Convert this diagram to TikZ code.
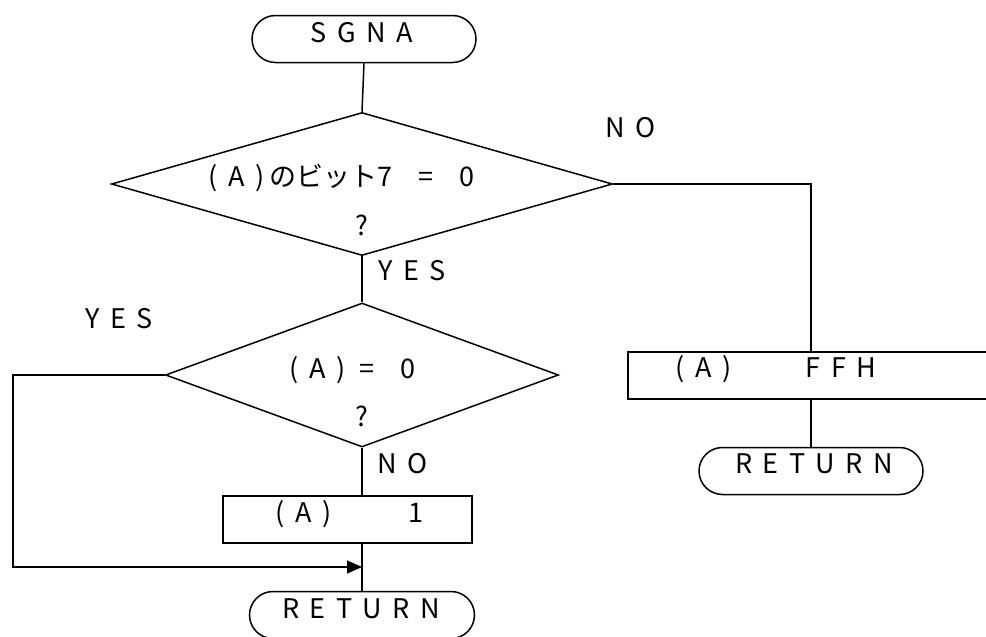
\documentclass[tikz,border=0pt]{standalone}
\usepackage{fontspec}
\newfontfamily\jp{Noto Sans CJK JP}
\newcommand\jpfnt{\jp\fontsize{27}{30}\selectfont\spaceskip=10.5pt\relax}
\usetikzlibrary{shapes.geometric,shapes.misc,arrows.meta}
\begin{document}
\begin{tikzpicture}[x=1pt,y=-1pt,line width=1.5pt,
  term/.style={rounded rectangle, draw, minimum width=224pt, minimum height=47pt, inner sep=0pt},
  dec/.style={diamond, draw, inner sep=0pt},
  proc/.style={rectangle, draw, inner sep=0pt},
  txt/.style={font=\jpfnt, inner sep=0pt},
  tl/.style={txt, anchor=base west},
  tc/.style={txt, anchor=base}]
\useasboundingbox (0,0) rectangle (986,637);
% shapes
\node[term] (start) at (364,39) {};
\node[dec, minimum width=501pt, minimum height=143pt] (d1) at (362,184) {};
\node[dec, minimum width=393pt, minimum height=144pt] (d2) at (362,375) {};
\node[proc, minimum width=249pt, minimum height=47pt] (p1) at (347.5,519.5) {};
\node[term, minimum width=225pt] (r1) at (362,615) {};
\node[proc, minimum width=380pt, minimum height=47pt] (p2) at (818,375.5) {};
\node[term] (r2) at (811,471) {};
\coordinate (c1) at (811,184);
\coordinate (c2) at (13,567);
\coordinate (c3) at (362,567);
% texts
\node[tc] (tstart) at (362,42) {S G N A};
\node[tl] (td1a) at (208,186) {( A )\hspace{5pt}のビット7\hspace{26pt}=\hspace{26pt}0};
\node[tl] (td1b) at (355,235) {?};
\node[tl] (tno1) at (605,137) {N O};
\node[tl] (tyes1) at (378,280) {Y E S};
\node[tl] (tyes2) at (85,328) {Y E S};
\node[tl] (td2a) at (289,378) {( A )\hspace{14pt}=\hspace{26pt}0};
\node[tl] (td2b) at (355,426) {?};
\node[tl] (tno2) at (377,473) {N O};
\node[tl] (tp1a) at (275,522) {( A )};
\node[tl] (tp1b) at (408,522) {1};
\node[tl] (tp2a) at (675,377) {( A )};
\node[tl] (tp2b) at (805,377) {F F H};
\node[tc] (tr1) at (361,618) {R E T U R N};
\node[tc] (tr2) at (814,473) {R E T U R N};
% connectors
\draw (start.south) -- (d1.north);
\draw (d1.south) -- (d2.north);
\draw (d2.south) -- (p1.north -| d2.south);
\draw (p1.south -| d2.south) -- (r1.north);
\draw (d1.east) -- (c1) -- (c1 |- p2.north);
\draw (c1 |- p2.south) -- (r2.north);
\draw[-{Triangle[length=15pt,width=13pt]}] (d2.west) -| (c2) -- (c3);
\end{tikzpicture}
\end{document}
